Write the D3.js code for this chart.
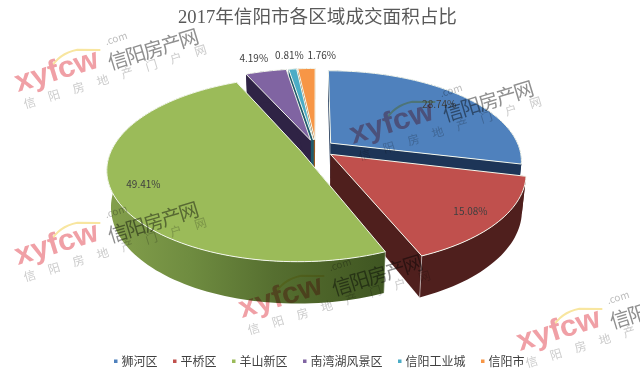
<!DOCTYPE html>
<html>
<head>
<meta charset="utf-8">
<script src="https://cdn.jsdelivr.net/npm/d3@7/dist/d3.min.js"></script>
<style>
  html, body { margin: 0; padding: 0; background: #fff; }
  svg { display: block; }
  text { font-family: "Noto Sans CJK SC", "Noto Sans", sans-serif; }
</style>
</head>
<body>
<div id="chart"></div>
<script>
// --------------------------------------------------------
// VARIABLES
// --------------------------------------------------------
const width = 640;
const height = 379;

const titleText = "2017年信阳市各区域成交面积占比";
const categories = ["狮河区", "平桥区", "羊山新区", "南湾湖风景区", "信阳工业城", "信阳市"];
const shares = [28.74, 15.08, 49.41, 4.19, 0.81, 1.76];
const topColors = ["#4f81bd", "#c0504d", "#9bbb59", "#8064a2", "#4bacc6", "#f79646"];
const wallColors = ["#1d3557", "#4f1f1d", "#4b6228", "#2f2345", "#1f5a6b", "#9a5a22"];

// painter order, back slices first
const drawOrder = [0, 5, 4, 3, 1, 2];

// 3d view of the pie, fitted by hand to the picture
const view = { cx: 316, cy: 148.5, rx: 189, ry: 88, persp: 0.19, depth: 35.5, shrink: 0.98 };
const explode = [0.1, 0.1, 0.085, 0.1, 0.1, 0.1];

const svg = d3.select("#chart").append("svg")
  .attr("width", width)
  .attr("height", height)
  .attr("viewBox", [0, 0, width, height]);

const defs = svg.append("defs");
const greenWall = defs.append("linearGradient")
  .attr("id", "greenWall")
  .attr("gradientUnits", "userSpaceOnUse")
  .attr("x1", 107).attr("x2", 384).attr("y1", 0).attr("y2", 0);
[[0, "#84a04c"], [0.3, "#6f8c40"], [0.6, "#566f30"], [0.8, "#4b6228"], [1, "#3f5622"]].forEach(([o, c]) => {
  greenWall.append("stop").attr("offset", o).attr("stop-color", c);
});

// --------------------------------------------------------
// FUNCTIONS
// --------------------------------------------------------

// plane coords (X right, Y towards viewer) to the screen
function project(X, Y, bottom) {
  const s = 1 / (1 - view.persp * Y);
  const k = bottom ? view.shrink : 1;
  return [
    view.cx + X * view.rx * s * k,
    view.cy + Y * view.ry * s * k + (bottom ? view.depth * s : 0),
  ];
}

// point on a slice: angle clockwise from the top, r in pie radii
function slicePoint(d, angle, r, bottom) {
  const mid = (d.startAngle + d.endAngle) / 2;
  const X = explode[d.index] * Math.sin(mid) + r * Math.sin(angle);
  const Y = -explode[d.index] * Math.cos(mid) - r * Math.cos(angle);
  return project(X, Y, bottom);
}

function arcSamples(d) {
  const n = Math.max(2, Math.ceil((d.endAngle - d.startAngle) / 0.03));
  return d3.range(n + 1).map((i) => d.startAngle + (d.endAngle - d.startAngle) * i / n);
}

const poly = d3.line().curve(d3.curveLinearClosed);

// --------------------------------------------------------
// PIE
// --------------------------------------------------------
const pie = d3.pie().sort(null).value((d) => d);
const slices = pie(shares);

const g = svg.append("g");

drawOrder.forEach((i) => {
  const d = slices[i];
  const wallFill = i === 2 ? "url(#greenWall)" : wallColors[i];
  const angles = arcSamples(d);

  // radial walls
  [d.startAngle, d.endAngle].forEach((a) => {
    g.append("path")
      .attr("fill", wallColors[i])
      .attr("d", poly([
        slicePoint(d, 0, 0, false),
        slicePoint(d, a, 1, false),
        slicePoint(d, a, 1, true),
        slicePoint(d, 0, 0, true),
      ]));
  });

  // outer wall
  g.append("path")
    .attr("fill", wallFill)
    .attr("d", poly(
      angles.map((a) => slicePoint(d, a, 1, false))
        .concat(angles.slice().reverse().map((a) => slicePoint(d, a, 1, true)))
    ));

  // pale line down the front corner
  if (i === 1 || i === 2) {
    const corner = i === 1 ? d.endAngle : d.startAngle;
    const p0 = slicePoint(d, corner, 1, false);
    const p1 = slicePoint(d, corner, 1, true);
    g.append("line")
      .attr("x1", p0[0]).attr("y1", p0[1])
      .attr("x2", p1[0]).attr("y2", p1[1])
      .attr("stroke", "#fff").attr("stroke-opacity", 0.6).attr("stroke-width", 0.8);
  }

  // top face
  g.append("path")
    .attr("fill", topColors[i])
    .attr("stroke", "#f4f8ee")
    .attr("stroke-width", 1)
    .attr("stroke-linejoin", "round")
    .attr("d", poly([slicePoint(d, 0, 0, false)].concat(angles.map((a) => slicePoint(d, a, 1, false)))));
});

// --------------------------------------------------------
// DATA LABELS
// --------------------------------------------------------
const labelRadius = [0.82, 0.85, 0.84, 1.25, 1.25, 1.25];
const labelNudge = [0, 0, 0, -3, 1, 17];

svg.append("g").selectAll("text")
  .data(slices)
  .join("text")
  .attr("text-anchor", "middle")
  .attr("dominant-baseline", "central")
  .attr("font-size", 10)
  .attr("fill", "#404040")
  .attr("x", (d, i) => slicePoint(d, (d.startAngle + d.endAngle) / 2, labelRadius[i], false)[0] + labelNudge[i])
  .attr("y", (d, i) => slicePoint(d, (d.startAngle + d.endAngle) / 2, labelRadius[i], false)[1])
  .text((d) => d3.format(".2f")(d.value) + "%");

// --------------------------------------------------------
// TITLE + LEGEND
// --------------------------------------------------------
svg.append("text")
  .attr("x", 317.5)
  .attr("y", 23)
  .attr("text-anchor", "middle")
  .attr("font-size", 18.6)
  .attr("fill", "#595959")
  .style("font-family", '"Liberation Serif", "Noto Sans CJK SC", serif')
  .text(titleText);

const legendSize = 12;
let legendX = 114;
const legend = svg.append("g");
categories.forEach((name, i) => {
  legend.append("rect")
    .attr("x", legendX).attr("y", 359.5)
    .attr("width", 3.5).attr("height", 3.5)
    .attr("fill", topColors[i]);
  legend.append("text")
    .attr("x", legendX + 7.5).attr("y", 365.5)
    .attr("font-size", legendSize)
    .attr("fill", "#404040")
    .text(name);
  legendX += name.length * legendSize + 23;
});

// --------------------------------------------------------
// WATERMARKS
// --------------------------------------------------------
const markOrigins = [[18, 92], [353, 144], [18, 265], [242, 318], [520, 351]];

function drawMark(parent, x, y) {
  const m = parent.append("g")
    .attr("transform", `translate(${x},${y}) rotate(-17)`)
    .style("mix-blend-mode", "multiply");
  m.append("path")
    .attr("d", "M37,-12 Q50,-25 69,-23 L91,-16")
    .attr("fill", "none")
    .attr("stroke", "#f8e6a0")
    .attr("stroke-width", 2);
  m.append("text")
    .attr("x", 0).attr("y", 0)
    .attr("font-size", 30)
    .attr("textLength", 86)
    .attr("lengthAdjust", "spacingAndGlyphs")
    .attr("fill", "#f0a0a6")
    .style("font-family", '"Liberation Sans", sans-serif')
    .style("font-weight", "bold")
    .text("xyfcw");
  m.append("text")
    .attr("x", 95).attr("y", 6)
    .attr("font-size", 20)
    .attr("letter-spacing", -1.5)
    .attr("fill", "#8f8f8f")
    .text("信阳房产网");
  m.append("text")
    .attr("x", 98).attr("y", -19)
    .attr("font-size", 10)
    .attr("fill", "#bcbcbc")
    .text(".com");
  m.append("text")
    .attr("x", 2).attr("y", 18)
    .attr("font-size", 12)
    .attr("letter-spacing", 13.5)
    .attr("fill", "#cccccc")
    .text("信阳房地产门户网");
}

markOrigins.forEach(([x, y]) => drawMark(svg, x, y));
</script>
</body>
</html>
